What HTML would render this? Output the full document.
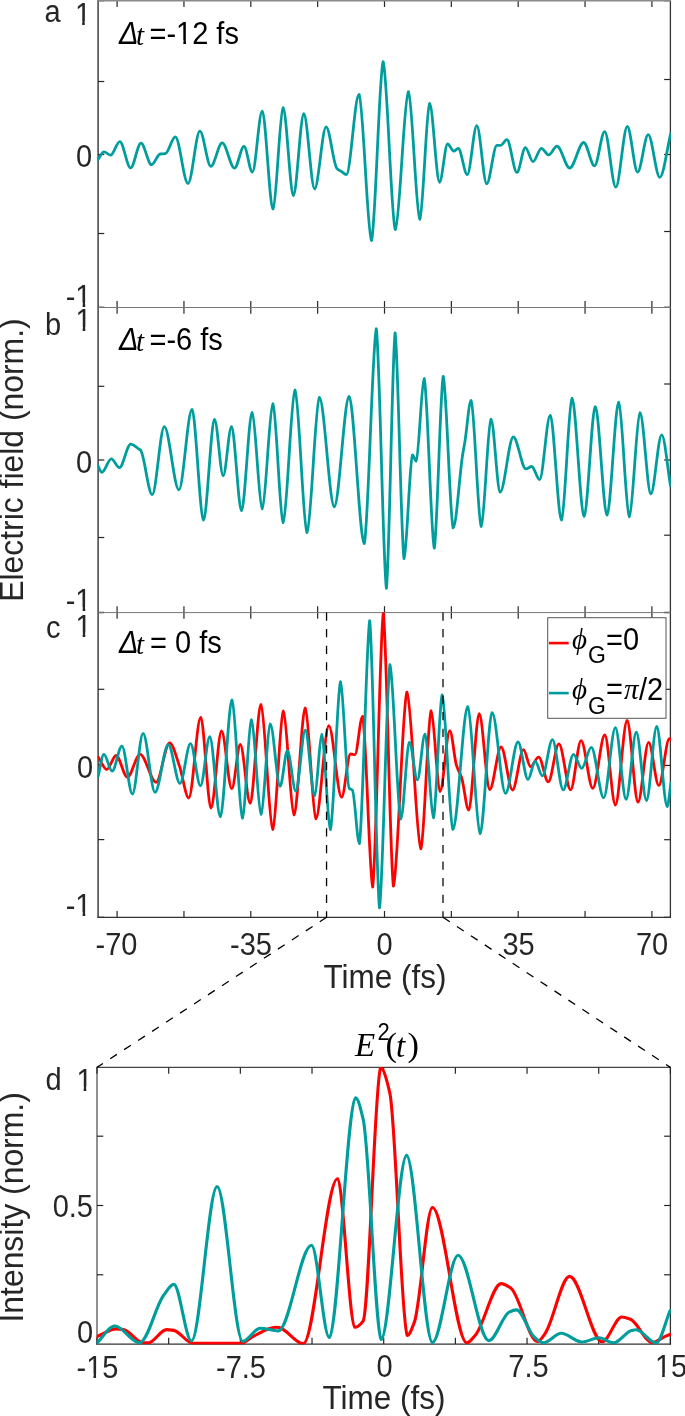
<!DOCTYPE html>
<html><head><meta charset="utf-8"><style>
html,body{margin:0;padding:0;background:#fff;overflow:hidden;}
svg{display:block;will-change:transform;}
text{font-family:"Liberation Sans",sans-serif;fill:#262626;}
.s{font-family:"Liberation Serif",serif;}
.i{font-style:italic;}
</style></head><body>
<svg width="685" height="1416" viewBox="0 0 685 1416">
<line x1="117.10" y1="0.70" x2="117.10" y2="7.00" stroke="#262626" stroke-width="1.2" />
<line x1="117.10" y1="307.40" x2="117.10" y2="301.10" stroke="#262626" stroke-width="1.2" />
<line x1="183.95" y1="0.70" x2="183.95" y2="7.00" stroke="#262626" stroke-width="1.2" />
<line x1="183.95" y1="307.40" x2="183.95" y2="301.10" stroke="#262626" stroke-width="1.2" />
<line x1="250.80" y1="0.70" x2="250.80" y2="7.00" stroke="#262626" stroke-width="1.2" />
<line x1="250.80" y1="307.40" x2="250.80" y2="301.10" stroke="#262626" stroke-width="1.2" />
<line x1="317.65" y1="0.70" x2="317.65" y2="7.00" stroke="#262626" stroke-width="1.2" />
<line x1="317.65" y1="307.40" x2="317.65" y2="301.10" stroke="#262626" stroke-width="1.2" />
<line x1="384.50" y1="0.70" x2="384.50" y2="7.00" stroke="#262626" stroke-width="1.2" />
<line x1="384.50" y1="307.40" x2="384.50" y2="301.10" stroke="#262626" stroke-width="1.2" />
<line x1="451.35" y1="0.70" x2="451.35" y2="7.00" stroke="#262626" stroke-width="1.2" />
<line x1="451.35" y1="307.40" x2="451.35" y2="301.10" stroke="#262626" stroke-width="1.2" />
<line x1="518.20" y1="0.70" x2="518.20" y2="7.00" stroke="#262626" stroke-width="1.2" />
<line x1="518.20" y1="307.40" x2="518.20" y2="301.10" stroke="#262626" stroke-width="1.2" />
<line x1="585.05" y1="0.70" x2="585.05" y2="7.00" stroke="#262626" stroke-width="1.2" />
<line x1="585.05" y1="307.40" x2="585.05" y2="301.10" stroke="#262626" stroke-width="1.2" />
<line x1="651.90" y1="0.70" x2="651.90" y2="7.00" stroke="#262626" stroke-width="1.2" />
<line x1="651.90" y1="307.40" x2="651.90" y2="301.10" stroke="#262626" stroke-width="1.2" />
<line x1="98.00" y1="81.50" x2="104.30" y2="81.50" stroke="#262626" stroke-width="1.2" />
<line x1="98.00" y1="154.50" x2="104.30" y2="154.50" stroke="#262626" stroke-width="1.2" />
<line x1="98.00" y1="233.50" x2="104.30" y2="233.50" stroke="#262626" stroke-width="1.2" />
<line x1="670.40" y1="79.50" x2="664.10" y2="79.50" stroke="#262626" stroke-width="1.2" />
<line x1="670.40" y1="154.50" x2="664.10" y2="154.50" stroke="#262626" stroke-width="1.2" />
<line x1="670.40" y1="231.50" x2="664.10" y2="231.50" stroke="#262626" stroke-width="1.2" />
<line x1="98.00" y1="0.70" x2="104.30" y2="0.70" stroke="#262626" stroke-width="1.2" />
<line x1="670.40" y1="0.70" x2="664.10" y2="0.70" stroke="#262626" stroke-width="1.2" />
<line x1="98.00" y1="307.40" x2="104.30" y2="307.40" stroke="#262626" stroke-width="1.2" />
<line x1="670.40" y1="307.40" x2="664.10" y2="307.40" stroke="#262626" stroke-width="1.2" />
<line x1="117.10" y1="307.40" x2="117.10" y2="313.70" stroke="#262626" stroke-width="1.2" />
<line x1="117.10" y1="612.50" x2="117.10" y2="606.20" stroke="#262626" stroke-width="1.2" />
<line x1="183.95" y1="307.40" x2="183.95" y2="313.70" stroke="#262626" stroke-width="1.2" />
<line x1="183.95" y1="612.50" x2="183.95" y2="606.20" stroke="#262626" stroke-width="1.2" />
<line x1="250.80" y1="307.40" x2="250.80" y2="313.70" stroke="#262626" stroke-width="1.2" />
<line x1="250.80" y1="612.50" x2="250.80" y2="606.20" stroke="#262626" stroke-width="1.2" />
<line x1="317.65" y1="307.40" x2="317.65" y2="313.70" stroke="#262626" stroke-width="1.2" />
<line x1="317.65" y1="612.50" x2="317.65" y2="606.20" stroke="#262626" stroke-width="1.2" />
<line x1="384.50" y1="307.40" x2="384.50" y2="313.70" stroke="#262626" stroke-width="1.2" />
<line x1="384.50" y1="612.50" x2="384.50" y2="606.20" stroke="#262626" stroke-width="1.2" />
<line x1="451.35" y1="307.40" x2="451.35" y2="313.70" stroke="#262626" stroke-width="1.2" />
<line x1="451.35" y1="612.50" x2="451.35" y2="606.20" stroke="#262626" stroke-width="1.2" />
<line x1="518.20" y1="307.40" x2="518.20" y2="313.70" stroke="#262626" stroke-width="1.2" />
<line x1="518.20" y1="612.50" x2="518.20" y2="606.20" stroke="#262626" stroke-width="1.2" />
<line x1="585.05" y1="307.40" x2="585.05" y2="313.70" stroke="#262626" stroke-width="1.2" />
<line x1="585.05" y1="612.50" x2="585.05" y2="606.20" stroke="#262626" stroke-width="1.2" />
<line x1="651.90" y1="307.40" x2="651.90" y2="313.70" stroke="#262626" stroke-width="1.2" />
<line x1="651.90" y1="612.50" x2="651.90" y2="606.20" stroke="#262626" stroke-width="1.2" />
<line x1="98.00" y1="386.30" x2="104.30" y2="386.30" stroke="#262626" stroke-width="1.2" />
<line x1="98.00" y1="460.00" x2="104.30" y2="460.00" stroke="#262626" stroke-width="1.2" />
<line x1="98.00" y1="537.50" x2="104.30" y2="537.50" stroke="#262626" stroke-width="1.2" />
<line x1="670.40" y1="384.00" x2="664.10" y2="384.00" stroke="#262626" stroke-width="1.2" />
<line x1="670.40" y1="460.00" x2="664.10" y2="460.00" stroke="#262626" stroke-width="1.2" />
<line x1="670.40" y1="535.20" x2="664.10" y2="535.20" stroke="#262626" stroke-width="1.2" />
<line x1="98.00" y1="307.40" x2="104.30" y2="307.40" stroke="#262626" stroke-width="1.2" />
<line x1="670.40" y1="307.40" x2="664.10" y2="307.40" stroke="#262626" stroke-width="1.2" />
<line x1="98.00" y1="612.50" x2="104.30" y2="612.50" stroke="#262626" stroke-width="1.2" />
<line x1="670.40" y1="612.50" x2="664.10" y2="612.50" stroke="#262626" stroke-width="1.2" />
<line x1="117.10" y1="612.50" x2="117.10" y2="618.80" stroke="#262626" stroke-width="1.2" />
<line x1="117.10" y1="917.30" x2="117.10" y2="911.00" stroke="#262626" stroke-width="1.2" />
<line x1="183.95" y1="612.50" x2="183.95" y2="618.80" stroke="#262626" stroke-width="1.2" />
<line x1="183.95" y1="917.30" x2="183.95" y2="911.00" stroke="#262626" stroke-width="1.2" />
<line x1="250.80" y1="612.50" x2="250.80" y2="618.80" stroke="#262626" stroke-width="1.2" />
<line x1="250.80" y1="917.30" x2="250.80" y2="911.00" stroke="#262626" stroke-width="1.2" />
<line x1="317.65" y1="612.50" x2="317.65" y2="618.80" stroke="#262626" stroke-width="1.2" />
<line x1="317.65" y1="917.30" x2="317.65" y2="911.00" stroke="#262626" stroke-width="1.2" />
<line x1="384.50" y1="612.50" x2="384.50" y2="618.80" stroke="#262626" stroke-width="1.2" />
<line x1="384.50" y1="917.30" x2="384.50" y2="911.00" stroke="#262626" stroke-width="1.2" />
<line x1="451.35" y1="612.50" x2="451.35" y2="618.80" stroke="#262626" stroke-width="1.2" />
<line x1="451.35" y1="917.30" x2="451.35" y2="911.00" stroke="#262626" stroke-width="1.2" />
<line x1="518.20" y1="612.50" x2="518.20" y2="618.80" stroke="#262626" stroke-width="1.2" />
<line x1="518.20" y1="917.30" x2="518.20" y2="911.00" stroke="#262626" stroke-width="1.2" />
<line x1="585.05" y1="612.50" x2="585.05" y2="618.80" stroke="#262626" stroke-width="1.2" />
<line x1="585.05" y1="917.30" x2="585.05" y2="911.00" stroke="#262626" stroke-width="1.2" />
<line x1="651.90" y1="612.50" x2="651.90" y2="618.80" stroke="#262626" stroke-width="1.2" />
<line x1="651.90" y1="917.30" x2="651.90" y2="911.00" stroke="#262626" stroke-width="1.2" />
<line x1="98.00" y1="689.30" x2="104.30" y2="689.30" stroke="#262626" stroke-width="1.2" />
<line x1="98.00" y1="764.50" x2="104.30" y2="764.50" stroke="#262626" stroke-width="1.2" />
<line x1="98.00" y1="839.60" x2="104.30" y2="839.60" stroke="#262626" stroke-width="1.2" />
<line x1="670.40" y1="689.30" x2="664.10" y2="689.30" stroke="#262626" stroke-width="1.2" />
<line x1="670.40" y1="765.40" x2="664.10" y2="765.40" stroke="#262626" stroke-width="1.2" />
<line x1="670.40" y1="839.70" x2="664.10" y2="839.70" stroke="#262626" stroke-width="1.2" />
<line x1="98.00" y1="612.50" x2="104.30" y2="612.50" stroke="#262626" stroke-width="1.2" />
<line x1="670.40" y1="612.50" x2="664.10" y2="612.50" stroke="#262626" stroke-width="1.2" />
<line x1="98.00" y1="917.30" x2="104.30" y2="917.30" stroke="#262626" stroke-width="1.2" />
<line x1="670.40" y1="917.30" x2="664.10" y2="917.30" stroke="#262626" stroke-width="1.2" />
<line x1="98.10" y1="0.00" x2="98.10" y2="917.90" stroke="#333" stroke-width="1.4" />
<line x1="670.40" y1="0.00" x2="670.40" y2="917.90" stroke="#333" stroke-width="1.3" />
<line x1="97.40" y1="0.75" x2="671.00" y2="0.75" stroke="#8a8a8a" stroke-width="1.5" />
<line x1="97.40" y1="307.50" x2="671.00" y2="307.50" stroke="#777" stroke-width="1.0" />
<line x1="97.40" y1="612.60" x2="671.00" y2="612.60" stroke="#777" stroke-width="1.0" />
<line x1="97.40" y1="917.30" x2="671.00" y2="917.30" stroke="#333" stroke-width="1.3" />
<line x1="97.00" y1="1067.40" x2="97.00" y2="1344.70" stroke="#555" stroke-width="1.3" />
<line x1="670.40" y1="1067.40" x2="670.40" y2="1344.70" stroke="#333" stroke-width="1.3" />
<line x1="96.40" y1="1067.40" x2="671.00" y2="1067.40" stroke="#444" stroke-width="1.1" />
<line x1="96.40" y1="1344.10" x2="671.00" y2="1344.10" stroke="#333" stroke-width="1.3" />
<line x1="97.00" y1="1067.40" x2="97.00" y2="1073.70" stroke="#262626" stroke-width="1.2" />
<line x1="97.00" y1="1344.10" x2="97.00" y2="1337.80" stroke="#262626" stroke-width="1.2" />
<line x1="168.68" y1="1067.40" x2="168.68" y2="1073.70" stroke="#262626" stroke-width="1.2" />
<line x1="168.68" y1="1344.10" x2="168.68" y2="1337.80" stroke="#262626" stroke-width="1.2" />
<line x1="240.35" y1="1067.40" x2="240.35" y2="1073.70" stroke="#262626" stroke-width="1.2" />
<line x1="240.35" y1="1344.10" x2="240.35" y2="1337.80" stroke="#262626" stroke-width="1.2" />
<line x1="312.02" y1="1067.40" x2="312.02" y2="1073.70" stroke="#262626" stroke-width="1.2" />
<line x1="312.02" y1="1344.10" x2="312.02" y2="1337.80" stroke="#262626" stroke-width="1.2" />
<line x1="383.70" y1="1067.40" x2="383.70" y2="1073.70" stroke="#262626" stroke-width="1.2" />
<line x1="383.70" y1="1344.10" x2="383.70" y2="1337.80" stroke="#262626" stroke-width="1.2" />
<line x1="455.38" y1="1067.40" x2="455.38" y2="1073.70" stroke="#262626" stroke-width="1.2" />
<line x1="455.38" y1="1344.10" x2="455.38" y2="1337.80" stroke="#262626" stroke-width="1.2" />
<line x1="527.05" y1="1067.40" x2="527.05" y2="1073.70" stroke="#262626" stroke-width="1.2" />
<line x1="527.05" y1="1344.10" x2="527.05" y2="1337.80" stroke="#262626" stroke-width="1.2" />
<line x1="598.72" y1="1067.40" x2="598.72" y2="1073.70" stroke="#262626" stroke-width="1.2" />
<line x1="598.72" y1="1344.10" x2="598.72" y2="1337.80" stroke="#262626" stroke-width="1.2" />
<line x1="670.40" y1="1067.40" x2="670.40" y2="1073.70" stroke="#262626" stroke-width="1.2" />
<line x1="670.40" y1="1344.10" x2="670.40" y2="1337.80" stroke="#262626" stroke-width="1.2" />
<line x1="97.00" y1="1136.20" x2="103.30" y2="1136.20" stroke="#262626" stroke-width="1.2" />
<line x1="670.40" y1="1136.20" x2="664.10" y2="1136.20" stroke="#262626" stroke-width="1.2" />
<line x1="97.00" y1="1205.50" x2="103.30" y2="1205.50" stroke="#262626" stroke-width="1.2" />
<line x1="670.40" y1="1205.50" x2="664.10" y2="1205.50" stroke="#262626" stroke-width="1.2" />
<line x1="97.00" y1="1274.80" x2="103.30" y2="1274.80" stroke="#262626" stroke-width="1.2" />
<line x1="670.40" y1="1274.80" x2="664.10" y2="1274.80" stroke="#262626" stroke-width="1.2" />
<defs><clipPath id="ca"><rect x="97.6" y="0" width="573.3" height="307.6"/></clipPath><clipPath id="cb"><rect x="97.6" y="307" width="573.3" height="305.8"/></clipPath><clipPath id="cc"><rect x="97.6" y="612.2" width="573.3" height="305.4"/></clipPath><clipPath id="cd"><rect x="96.6" y="1066.9" width="574.3" height="277.6"/></clipPath></defs>
<path d="M97.80,159.90C99.87,157.20 101.93,151.80 104.00,151.80C106.20,151.80 108.40,155.20 110.60,155.20C113.67,155.20 116.73,141.60 119.80,141.60C123.40,141.60 127.00,167.90 130.60,167.90C134.07,167.90 137.53,143.10 141.00,143.10C144.50,143.10 148.00,164.70 151.50,164.70C154.40,164.70 157.30,154.30 160.20,154.00C161.90,153.82 163.60,153.88 165.30,153.70C168.63,153.36 171.97,136.90 175.30,136.90C179.53,136.90 183.77,183.50 188.00,183.50C191.97,183.50 195.93,131.20 199.90,131.20C203.53,131.20 207.17,166.30 210.80,166.30C214.60,166.30 218.40,142.90 222.20,142.90C226.30,142.90 230.40,168.20 234.50,168.20C237.67,168.20 240.83,146.30 244.00,146.30C246.80,146.30 249.60,172.10 252.40,172.10C255.67,172.02 258.93,111.18 262.20,111.10C265.80,112.77 269.40,207.43 273.00,209.10C276.37,206.82 279.73,109.88 283.10,107.60C286.53,108.84 289.97,194.26 293.40,195.50C296.87,194.65 300.33,114.55 303.80,113.70C307.40,114.10 311.00,188.50 314.60,188.90C318.43,188.90 322.27,126.90 326.10,126.90C329.70,126.90 333.30,164.81 336.90,168.50C338.37,170.00 339.83,170.46 341.30,171.40C343.00,172.49 344.70,174.60 346.40,174.60C350.60,174.43 354.80,94.47 359.00,94.30C363.17,98.93 367.33,235.87 371.50,240.50C375.37,231.15 379.23,71.05 383.10,61.70C387.17,68.94 391.23,222.36 395.30,229.60C399.67,226.12 404.03,95.08 408.40,91.60C412.20,95.29 416.00,215.61 419.80,219.30C423.07,215.54 426.33,107.06 429.60,103.30C432.90,104.17 436.20,181.43 439.50,182.30C442.20,182.30 444.90,144.00 447.60,144.00C449.70,144.00 451.80,151.20 453.90,151.20C455.33,151.20 456.77,148.30 458.20,148.30C461.23,148.30 464.27,174.60 467.30,174.60C470.47,174.60 473.63,125.70 476.80,125.70C480.10,125.70 483.40,183.80 486.70,183.80C490.10,183.80 493.50,145.40 496.90,145.40C498.13,145.40 499.37,145.40 500.60,145.40C502.70,145.40 504.80,139.60 506.90,139.60C510.23,139.60 513.57,172.40 516.90,172.40C519.73,172.40 522.57,147.60 525.40,147.60C527.93,147.60 530.47,161.70 533.00,161.70C535.80,161.70 538.60,148.30 541.40,148.30C543.83,148.30 546.27,154.90 548.70,154.90C551.47,154.90 554.23,146.10 557.00,146.10C561.23,146.10 565.47,168.00 569.70,168.00C574.37,168.00 579.03,142.50 583.70,142.50C587.30,142.50 590.90,165.80 594.50,165.80C597.90,165.80 601.30,131.60 604.70,131.60C608.40,131.60 612.10,187.20 615.80,187.20C619.63,187.20 623.47,126.50 627.30,126.50C630.73,126.50 634.17,172.10 637.60,172.10C641.13,172.10 644.67,134.70 648.20,134.70C652.07,134.70 655.93,177.40 659.80,177.40C663.43,177.40 667.07,148.20 670.70,133.60" fill="none" stroke="#009d9d" stroke-width="2.8" stroke-linejoin="round" stroke-linecap="round" clip-path="url(#ca)"/>
<path d="M97.80,465.40C99.13,467.70 100.47,472.30 101.80,472.30C104.97,472.30 108.13,458.80 111.30,458.80C114.00,458.80 116.70,467.60 119.40,467.60C123.17,467.60 126.93,444.20 130.70,444.20C133.23,444.20 135.77,446.99 138.30,448.60C139.03,449.07 139.77,449.37 140.50,450.10C144.40,453.99 148.30,494.60 152.20,494.60C156.23,494.60 160.27,426.70 164.30,426.70C169.17,426.70 174.03,489.80 178.90,489.80C183.27,489.74 187.63,409.56 192.00,409.50C195.83,411.72 199.67,517.88 203.50,520.10C207.17,518.33 210.83,421.07 214.50,419.30C217.40,419.46 220.30,475.64 223.20,475.80C225.97,475.80 228.73,426.60 231.50,426.60C234.83,427.72 238.17,509.48 241.50,510.60C245.03,508.83 248.57,414.27 252.10,412.50C255.47,414.39 258.83,506.91 262.20,508.80C265.77,506.57 269.33,405.93 272.90,403.70C276.30,407.44 279.70,518.86 283.10,522.60C287.07,518.82 291.03,393.88 295.00,390.10C299.00,394.74 303.00,527.86 307.00,532.50C311.13,528.83 315.27,401.07 319.40,397.40C324.37,398.22 329.33,506.08 334.30,506.90C339.23,506.00 344.17,397.40 349.10,396.50C354.17,399.51 359.23,540.59 364.30,543.60C368.30,529.40 372.30,343.00 376.30,328.80C379.67,350.43 383.03,566.67 386.40,588.30C389.30,567.02 392.20,354.27 395.10,333.00C398.07,351.80 401.03,539.80 404.00,558.60C406.83,555.02 409.67,458.38 412.50,454.80C413.70,454.80 414.90,461.20 416.10,461.20C418.80,459.27 421.50,380.53 424.20,378.60C427.57,388.75 430.93,537.95 434.30,548.10C437.27,535.42 440.23,389.08 443.20,376.40C446.53,384.10 449.87,520.20 453.20,527.90C456.30,527.19 459.40,475.79 462.50,455.70C463.30,450.52 464.10,446.62 464.90,441.70C466.97,428.98 469.03,400.65 471.10,400.50C474.47,405.02 477.83,521.88 481.20,526.40C484.47,523.45 487.73,422.05 491.00,419.10C494.03,419.93 497.07,491.37 500.10,492.20C504.50,492.20 508.90,437.00 513.30,437.00C517.50,437.00 521.70,468.90 525.90,468.90C527.83,468.90 529.77,466.50 531.70,466.50C534.33,466.50 536.97,479.70 539.60,479.70C543.13,479.67 546.67,415.33 550.20,415.30C553.97,417.21 557.73,518.19 561.50,520.10C565.00,516.30 568.50,402.00 572.00,398.20C576.03,400.67 580.07,513.83 584.10,516.30C587.83,513.99 591.57,409.01 595.30,406.70C599.20,408.66 603.10,513.04 607.00,515.00C610.90,512.73 614.80,404.57 618.70,402.30C622.23,405.35 625.77,513.75 629.30,516.80C632.87,514.64 636.43,414.76 640.00,412.60C643.60,413.29 647.20,493.21 650.80,493.90C654.43,493.90 658.07,434.80 661.70,434.80C664.63,434.80 667.57,468.73 670.50,485.70" fill="none" stroke="#009d9d" stroke-width="2.8" stroke-linejoin="round" stroke-linecap="round" clip-path="url(#cb)"/>
<path d="M98.30,757.20C101.10,761.30 103.90,769.50 106.70,769.50C109.83,769.50 112.97,755.50 116.10,755.50C119.83,755.50 123.57,777.10 127.30,777.10C131.57,777.10 135.83,754.30 140.10,754.30C145.43,754.30 150.77,782.30 156.10,782.30C160.60,782.30 165.10,742.80 169.60,742.80C172.87,742.80 176.13,756.78 179.40,765.90C182.53,774.65 185.67,798.00 188.80,798.00C192.77,797.65 196.73,717.75 200.70,717.40C204.13,718.81 207.57,806.59 211.00,808.00C214.50,807.42 218.00,731.48 221.50,730.90C224.93,730.90 228.37,788.70 231.80,788.70C234.63,788.70 237.47,744.50 240.30,744.50C243.60,744.50 246.90,803.20 250.20,803.20C253.77,801.43 257.33,706.27 260.90,704.50C264.87,707.63 268.83,826.37 272.80,829.50C276.30,826.02 279.80,714.48 283.30,711.00C286.87,713.14 290.43,812.76 294.00,814.90C297.77,812.85 301.53,710.05 305.30,708.00C308.83,710.74 312.37,816.06 315.90,818.80C320.20,818.17 324.50,726.23 328.80,725.60C333.07,725.60 337.33,797.20 341.60,797.20C344.57,797.20 347.53,754.00 350.50,754.00C351.97,754.00 353.43,754.60 354.90,754.60C357.47,754.60 360.03,716.30 362.60,716.30C365.97,726.64 369.33,876.66 372.70,887.00C376.23,864.19 379.77,636.11 383.30,613.30C386.67,636.03 390.03,863.37 393.40,886.10C397.90,877.08 402.40,701.12 406.90,692.10C411.57,696.62 416.23,844.28 420.90,848.80C424.30,843.03 427.70,716.57 431.10,710.80C434.07,712.18 437.03,790.12 440.00,791.50C443.27,791.43 446.53,730.77 449.80,730.70C452.00,730.70 454.20,757.90 456.40,765.10C458.17,770.89 459.93,772.46 461.70,778.00C464.03,785.32 466.37,810.10 468.70,810.10C472.20,808.40 475.70,715.40 479.20,713.70C482.70,714.21 486.20,788.99 489.70,789.50C493.50,789.50 497.30,747.00 501.10,747.00C504.90,747.00 508.70,790.00 512.50,790.00C516.17,790.00 519.83,749.60 523.50,749.60C525.83,749.60 528.17,766.60 530.50,766.60C533.23,766.60 535.97,757.20 538.70,757.20C541.90,757.20 545.10,781.80 548.30,781.80C551.83,781.80 555.37,743.80 558.90,743.80C562.80,743.80 566.70,789.90 570.60,789.90C574.10,789.90 577.60,740.60 581.10,740.60C585.00,740.60 588.90,788.30 592.80,788.30C596.80,788.30 600.80,735.00 604.80,735.00C608.33,735.24 611.87,804.86 615.40,805.10C619.30,804.52 623.20,720.98 627.10,720.40C630.73,721.08 634.37,801.52 638.00,802.20C641.53,802.20 645.07,742.30 648.60,742.30C652.00,742.30 655.40,785.40 658.80,785.40C662.33,785.40 665.87,738.70 669.40,738.70C669.80,738.70 670.20,739.23 670.60,739.50" fill="none" stroke="#ff0000" stroke-width="2.8" stroke-linejoin="round" stroke-linecap="round" clip-path="url(#cc)"/>
<path d="M98.10,776.50C100.03,769.10 101.97,754.30 103.90,754.30C106.63,754.30 109.37,771.20 112.10,771.20C115.37,771.20 118.63,746.10 121.90,746.10C125.40,746.10 128.90,794.00 132.40,794.00C135.97,794.00 139.53,733.30 143.10,733.30C147.07,733.30 151.03,792.30 155.00,792.30C159.43,792.30 163.87,744.60 168.30,744.60C172.20,744.60 176.10,783.40 180.00,783.40C183.50,783.40 187.00,743.70 190.50,743.70C193.83,743.70 197.17,785.80 200.50,785.80C203.60,785.80 206.70,736.70 209.80,736.70C213.30,737.42 216.80,815.98 220.30,816.70C224.20,814.12 228.10,702.48 232.00,699.90C235.50,703.36 239.00,814.74 242.50,818.20C245.47,815.43 248.43,722.47 251.40,719.70C254.63,721.67 257.87,812.33 261.10,814.30C264.13,812.32 267.17,725.78 270.20,723.80C273.50,723.91 276.80,786.19 280.10,786.30C282.53,786.30 284.97,750.70 287.40,750.70C290.20,750.70 293.00,791.00 295.80,791.00C298.97,790.86 302.13,730.34 305.30,730.20C308.43,730.56 311.57,795.44 314.70,795.80C317.07,794.90 319.43,735.30 321.80,734.40C324.67,737.08 327.53,826.92 330.40,829.60C333.77,822.51 337.13,688.89 340.50,681.80C343.40,685.49 346.30,785.42 349.20,788.30C350.27,789.36 351.33,789.14 352.40,790.20C354.73,792.52 357.07,843.12 359.40,843.60C362.83,825.02 366.27,639.18 369.70,620.60C372.97,644.53 376.23,883.87 379.50,907.80C382.97,887.53 386.43,684.87 389.90,664.60C393.53,671.60 397.17,812.00 400.80,819.00C403.67,817.76 406.53,743.54 409.40,742.30C412.07,742.30 414.73,779.90 417.40,779.90C419.93,779.89 422.47,734.11 425.00,734.10C427.83,735.89 430.67,816.01 433.50,817.80C436.37,812.15 439.23,700.65 442.10,695.00C445.70,699.82 449.30,824.68 452.90,829.50C457.87,827.97 462.83,708.23 467.80,706.70C471.90,709.74 476.00,830.56 480.10,833.60C484.10,830.86 488.10,715.34 492.10,712.60C496.57,712.61 501.03,793.39 505.50,793.40C509.67,793.40 513.83,742.00 518.00,742.00C521.33,742.00 524.67,779.40 528.00,779.40C530.40,779.40 532.80,761.30 535.20,761.30C537.60,761.30 540.00,775.90 542.40,775.90C545.73,775.90 549.07,739.70 552.40,739.70C556.00,739.70 559.60,789.90 563.20,789.90C566.63,789.90 570.07,754.30 573.50,754.30C576.23,754.30 578.97,768.30 581.70,768.30C584.90,768.30 588.10,747.40 591.30,747.40C595.43,747.40 599.57,797.80 603.70,797.80C607.60,797.80 611.50,727.70 615.40,727.70C618.97,727.98 622.53,799.02 626.10,799.30C629.50,799.08 632.90,732.32 636.30,732.10C639.70,732.38 643.10,800.42 646.50,800.70C649.90,800.17 653.30,726.83 656.70,726.30C660.20,727.04 663.70,805.86 667.20,806.60C668.43,806.56 669.67,791.00 670.90,783.20" fill="none" stroke="#009d9d" stroke-width="2.8" stroke-linejoin="round" stroke-linecap="round" clip-path="url(#cc)"/>
<path d="M97.20,1336.50C103.53,1333.97 109.87,1328.90 116.20,1328.90C118.63,1328.90 121.07,1329.23 123.50,1329.60C130.07,1330.59 136.63,1342.80 143.20,1342.80C144.90,1342.80 146.60,1342.80 148.30,1342.80C154.37,1342.80 160.43,1329.60 166.50,1329.60C168.93,1329.60 171.37,1329.99 173.80,1330.40C180.13,1331.48 186.47,1343.20 192.80,1343.20C208.93,1343.20 225.07,1343.20 241.20,1343.20C245.33,1343.20 249.47,1338.20 253.60,1336.20C260.90,1332.68 268.20,1327.20 275.50,1327.20C276.70,1327.20 277.90,1327.41 279.10,1327.60C287.17,1328.91 295.23,1343.60 303.30,1343.60C314.70,1343.60 326.10,1178.80 337.50,1178.80C343.30,1180.89 349.10,1325.21 354.90,1327.30C357.63,1327.30 360.37,1324.64 363.10,1321.10C368.93,1313.54 374.77,1079.73 380.60,1067.80C383.67,1067.80 386.73,1079.76 389.80,1092.80C395.60,1117.47 401.40,1324.70 407.20,1335.40C409.60,1335.40 412.00,1328.47 414.40,1322.10C420.40,1306.17 426.40,1207.73 432.40,1207.50C443.90,1207.50 455.40,1342.80 466.90,1342.80C469.83,1342.80 472.77,1338.19 475.70,1334.70C484.20,1324.59 492.70,1283.60 501.20,1283.60C504.37,1283.60 507.53,1285.83 510.70,1288.00C519.63,1294.11 528.57,1341.50 537.50,1341.50C540.07,1341.50 542.63,1336.82 545.20,1333.30C553.33,1322.13 561.47,1276.40 569.60,1276.40C580.47,1276.40 591.33,1341.80 602.20,1341.80C608.73,1341.80 615.27,1317.00 621.80,1317.00C624.67,1317.00 627.53,1318.18 630.40,1319.30C637.80,1322.20 645.20,1342.60 652.60,1342.60C656.47,1342.60 660.33,1338.47 664.20,1336.80C666.17,1335.95 668.13,1335.27 670.10,1334.50" fill="none" stroke="#ff0000" stroke-width="3.1" stroke-linejoin="round" stroke-linecap="round" clip-path="url(#cd)"/>
<path d="M97.20,1342.80C103.03,1337.20 108.87,1326.00 114.70,1326.00C122.97,1326.00 131.23,1342.80 139.50,1342.80C147.53,1342.80 155.57,1306.00 163.60,1295.30C167.00,1290.77 170.40,1284.40 173.80,1284.40C179.70,1284.40 185.60,1341.00 191.50,1341.00C200.03,1340.97 208.57,1186.63 217.10,1186.60C225.63,1186.64 234.17,1341.26 242.70,1341.30C248.53,1341.30 254.37,1328.20 260.20,1328.20C266.23,1328.20 272.27,1331.00 278.30,1331.00C289.37,1331.00 300.43,1245.30 311.50,1245.30C317.43,1245.30 323.37,1337.50 329.30,1337.50C338.07,1333.36 346.83,1102.04 355.60,1097.90C358.13,1097.90 360.67,1108.67 363.20,1119.40C369.20,1144.82 375.20,1331.88 381.20,1339.50C389.67,1338.21 398.13,1156.49 406.60,1155.20C415.20,1156.52 423.80,1341.28 432.40,1342.60C440.97,1342.60 449.53,1255.20 458.10,1255.20C468.33,1255.20 478.57,1340.60 488.80,1340.60C495.60,1340.60 502.40,1315.16 509.20,1312.10C511.63,1311.00 514.07,1309.90 516.50,1309.90C522.37,1309.90 528.23,1331.92 534.10,1336.90C537.27,1339.59 540.43,1342.80 543.60,1342.80C549.50,1342.80 555.40,1333.30 561.30,1333.30C568.10,1333.30 574.90,1342.00 581.70,1342.00C587.53,1342.00 593.37,1337.70 599.20,1337.70C604.00,1337.70 608.80,1342.90 613.60,1342.90C619.53,1342.90 625.47,1332.03 631.40,1330.60C633.00,1330.22 634.60,1329.80 636.20,1329.80C642.83,1329.80 649.47,1342.90 656.10,1342.90C660.77,1342.90 665.43,1321.30 670.10,1310.50" fill="none" stroke="#009d9d" stroke-width="3.1" stroke-linejoin="round" stroke-linecap="round" clip-path="url(#cd)"/>
<line x1="326.55" y1="612.50" x2="326.55" y2="917.30" stroke="#000" stroke-width="1.3" stroke-dasharray="8.25,8.35"/>
<line x1="443.00" y1="612.50" x2="443.00" y2="917.30" stroke="#000" stroke-width="1.25" stroke-dasharray="8.25,8.35"/>
<line x1="326.60" y1="917.30" x2="97.00" y2="1067.40" stroke="#000" stroke-width="1.3" stroke-dasharray="8.1,8.6"/>
<line x1="443.00" y1="917.30" x2="670.40" y2="1067.40" stroke="#000" stroke-width="1.3" stroke-dasharray="8.1,8.6"/>
<rect x="547.7" y="617.7" width="118.3" height="100.6" fill="#fff" stroke="#555" stroke-width="1"/>
<line x1="548.9" y1="643.1" x2="568.7" y2="643.1" stroke="#ff0000" stroke-width="2.6"/>
<line x1="548.9" y1="693.1" x2="568.7" y2="693.1" stroke="#009d9d" stroke-width="2.6"/>
<text x="0" y="0" font-size="29" text-anchor="start" transform="translate(44.50,22.00) scale(1,1.05)" >a</text>
<text x="0" y="0" font-size="29" text-anchor="end" transform="translate(91.00,25.00) scale(1,1.05)" >1</text>
<text x="0" y="0" font-size="29" text-anchor="end" transform="translate(92.00,166.50) scale(1,1.05)" >0</text>
<text x="0" y="0" font-size="29" text-anchor="end" transform="translate(91.50,306.50) scale(1,1.05)" >-1</text>
<text x="0" y="0" font-size="29" text-anchor="start" transform="translate(45.00,334.50) scale(1,1.05)" >b</text>
<text x="0" y="0" font-size="29" text-anchor="end" transform="translate(91.50,331.00) scale(1,1.05)" >1</text>
<text x="0" y="0" font-size="29" text-anchor="end" transform="translate(92.00,472.50) scale(1,1.05)" >0</text>
<text x="0" y="0" font-size="29" text-anchor="end" transform="translate(91.50,611.00) scale(1,1.05)" >-1</text>
<text x="0" y="0" font-size="29" text-anchor="start" transform="translate(46.00,638.00) scale(1,1.05)" >c</text>
<text x="0" y="0" font-size="29" text-anchor="end" transform="translate(91.50,636.50) scale(1,1.05)" >1</text>
<text x="0" y="0" font-size="29" text-anchor="end" transform="translate(93.00,777.50) scale(1,1.05)" >0</text>
<text x="0" y="0" font-size="29" text-anchor="end" transform="translate(91.50,916.00) scale(1,1.05)" >-1</text>
<text x="0" y="0" font-size="29" text-anchor="middle" transform="translate(116.50,955.00) scale(1,1.05)" >-70</text>
<text x="0" y="0" font-size="29" text-anchor="middle" transform="translate(251.00,955.00) scale(1,1.05)" >-35</text>
<text x="0" y="0" font-size="29" text-anchor="middle" transform="translate(384.50,954.50) scale(1,1.05)" >0</text>
<text x="0" y="0" font-size="29" text-anchor="middle" transform="translate(518.50,955.00) scale(1,1.05)" >35</text>
<text x="0" y="0" font-size="29" text-anchor="middle" transform="translate(652.00,955.00) scale(1,1.05)" >70</text>
<text x="0" y="0" font-size="31.5" text-anchor="middle" transform="translate(385.00,988.00) scale(1,1.05)" >Time (fs)</text>
<text x="0" y="0" font-size="31.9" text-anchor="middle" transform="translate(23.00,460.10) rotate(-90) scale(1,1.05)" >Electric field (norm.)</text>
<text x="0" y="0" font-size="29" text-anchor="start" transform="translate(45.50,1089.50) scale(1,1.05)" >d</text>
<text x="0" y="0" font-size="29" text-anchor="end" transform="translate(92.50,1090.50) scale(1,1.05)" >1</text>
<text x="0" y="0" font-size="29" text-anchor="end" transform="translate(93.00,1216.50) scale(1,1.05)" >0.5</text>
<text x="0" y="0" font-size="29" text-anchor="end" transform="translate(93.00,1342.50) scale(1,1.05)" >0</text>
<text x="0" y="0" font-size="29" text-anchor="middle" transform="translate(97.50,1377.50) scale(1,1.05)" >-15</text>
<text x="0" y="0" font-size="29" text-anchor="middle" transform="translate(241.00,1377.50) scale(1,1.05)" >-7.5</text>
<text x="0" y="0" font-size="29" text-anchor="middle" transform="translate(384.50,1377.00) scale(1,1.05)" >0</text>
<text x="0" y="0" font-size="29" text-anchor="middle" transform="translate(528.50,1377.00) scale(1,1.05)" >7.5</text>
<text x="0" y="0" font-size="29" text-anchor="middle" transform="translate(671.00,1377.00) scale(1,1.05)" >15</text>
<text x="0" y="0" font-size="31.5" text-anchor="middle" transform="translate(384.00,1409.00) scale(1,1.05)" >Time (fs)</text>
<text x="0" y="0" font-size="31.9" text-anchor="middle" transform="translate(23.00,1207.40) rotate(-90) scale(1,1.05)" >Intensity (norm.)</text>
<text x="0" y="0" font-size="29" text-anchor="start" transform="translate(119.00,44.00) scale(1,1.05)" style="fill:#000"><tspan class="i">Δ</tspan></text>
<text x="0" y="0" font-size="29" text-anchor="start" transform="translate(136.00,44.50) scale(1,1.0)" style="fill:#000"><tspan class="s i">t</tspan></text>
<text x="0" y="0" font-size="29" text-anchor="start" transform="translate(149.50,44.00) scale(1,1.05)" style="fill:#000">=-12 fs</text>
<text x="0" y="0" font-size="29" text-anchor="start" transform="translate(119.00,350.40) scale(1,1.05)" style="fill:#000"><tspan class="i">Δ</tspan></text>
<text x="0" y="0" font-size="29" text-anchor="start" transform="translate(136.00,350.90) scale(1,1.0)" style="fill:#000"><tspan class="s i">t</tspan></text>
<text x="0" y="0" font-size="29" text-anchor="start" transform="translate(149.50,350.40) scale(1,1.05)" style="fill:#000">=-6 fs</text>
<text x="0" y="0" font-size="29" text-anchor="start" transform="translate(119.00,653.40) scale(1,1.05)" style="fill:#000"><tspan class="i">Δ</tspan></text>
<text x="0" y="0" font-size="29" text-anchor="start" transform="translate(136.00,653.90) scale(1,1.0)" style="fill:#000"><tspan class="s i">t</tspan></text>
<text x="0" y="0" font-size="29" text-anchor="start" transform="translate(150.00,653.40) scale(1,1.05)" style="fill:#000">= 0 fs</text>
<text x="0" y="0" font-size="29" text-anchor="start" transform="translate(572.00,649.00) scale(1,1.0)" style="fill:#000"><tspan class="s i">ϕ</tspan></text>
<text x="0" y="0" font-size="23" text-anchor="start" transform="translate(588.00,663.00) scale(1,1.05)" style="fill:#000">G</text>
<text x="0" y="0" font-size="29" text-anchor="start" transform="translate(606.00,649.50) scale(1,1.05)" style="fill:#000">=0</text>
<text x="0" y="0" font-size="29" text-anchor="start" transform="translate(572.00,698.50) scale(1,1.0)" style="fill:#000"><tspan class="s i">ϕ</tspan></text>
<text x="0" y="0" font-size="23" text-anchor="start" transform="translate(588.00,713.50) scale(1,1.05)" style="fill:#000">G</text>
<text x="0" y="0" font-size="29" text-anchor="start" transform="translate(606.00,698.50) scale(1,1.05)" style="fill:#000">=</text>
<text x="0" y="0" font-size="29" text-anchor="start" transform="translate(624.00,698.50) scale(1,1.0)" style="fill:#000"><tspan class="s i">π</tspan></text>
<text x="0" y="0" font-size="29" text-anchor="start" transform="translate(639.00,699.50) scale(1,1.05)" style="fill:#000">/2</text>
<text x="0" y="0" font-size="33" text-anchor="start" transform="translate(355.00,1055.50) scale(1,1.0)" style="fill:#000"><tspan class="s i">E</tspan></text>
<text x="0" y="0" font-size="22" text-anchor="start" transform="translate(377.50,1039.50) scale(1,1.05)" style="fill:#000">2</text>
<text x="0" y="0" font-size="34.5" text-anchor="start" transform="translate(385.50,1055.50) scale(1,1.0)" style="fill:#000"><tspan class="s">(</tspan></text>
<text x="0" y="0" font-size="33" text-anchor="start" transform="translate(396.00,1057.00) scale(1,1.0)" style="fill:#000"><tspan class="s i">t</tspan></text>
<text x="0" y="0" font-size="34.5" text-anchor="start" transform="translate(407.50,1055.50) scale(1,1.0)" style="fill:#000"><tspan class="s">)</tspan></text>
<rect x="76.15" y="21.13" width="5.99" height="5.07" fill="#fff"/>
<rect x="84.76" y="21.13" width="5.83" height="5.07" fill="#fff"/>
<rect x="76.65" y="302.63" width="5.99" height="5.07" fill="#fff"/>
<rect x="85.26" y="302.63" width="5.83" height="5.07" fill="#fff"/>
<rect x="76.65" y="327.13" width="5.99" height="5.07" fill="#fff"/>
<rect x="85.26" y="327.13" width="5.83" height="5.07" fill="#fff"/>
<rect x="76.65" y="607.13" width="5.99" height="5.07" fill="#fff"/>
<rect x="85.26" y="607.13" width="5.83" height="5.07" fill="#fff"/>
<rect x="76.65" y="632.63" width="5.99" height="5.07" fill="#fff"/>
<rect x="85.26" y="632.63" width="5.83" height="5.07" fill="#fff"/>
<rect x="76.65" y="912.13" width="5.99" height="5.07" fill="#fff"/>
<rect x="85.26" y="912.13" width="5.83" height="5.07" fill="#fff"/>
<rect x="77.65" y="1086.63" width="5.99" height="5.07" fill="#fff"/>
<rect x="86.26" y="1086.63" width="5.83" height="5.07" fill="#fff"/>
<rect x="87.47" y="1373.63" width="5.99" height="5.07" fill="#fff"/>
<rect x="96.08" y="1373.63" width="5.83" height="5.07" fill="#fff"/>
<rect x="656.15" y="1373.13" width="5.99" height="5.07" fill="#fff"/>
<rect x="664.76" y="1373.13" width="5.83" height="5.07" fill="#fff"/>
<rect x="177.37" y="40.13" width="5.99" height="5.07" fill="#fff"/>
<rect x="185.98" y="40.13" width="5.83" height="5.07" fill="#fff"/>
</svg></body></html>
